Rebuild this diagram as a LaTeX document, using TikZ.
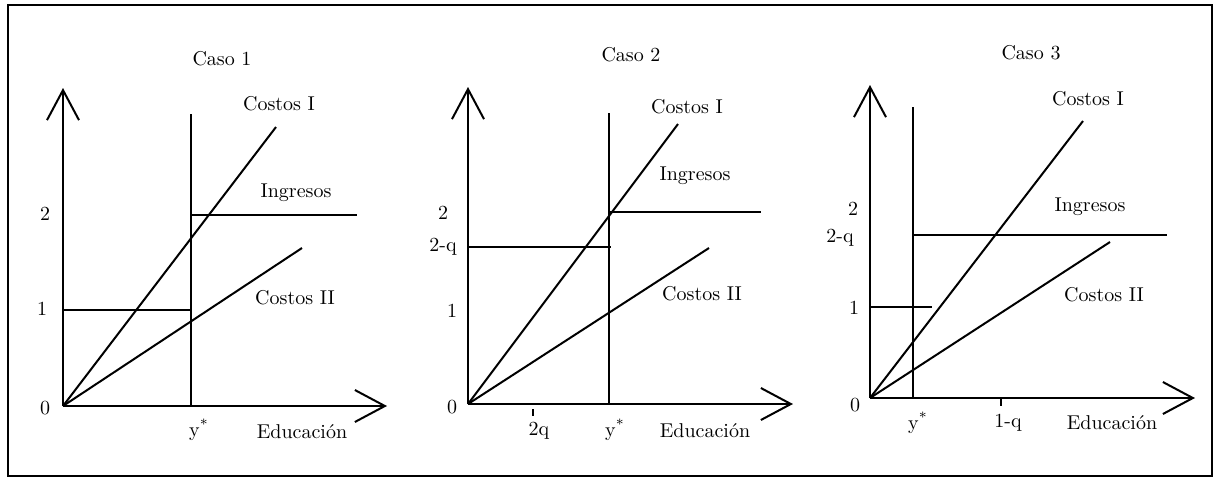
\documentclass[tikz,border=0pt]{standalone}
\usetikzlibrary{arrows.meta}
\begin{document}
\begin{tikzpicture}[x=0.5pt,y=-0.5pt,
  ln/.style={line width=1pt},
  axis/.style={line width=1pt,-{Straight Barb[length=15pt,width=16pt,line width=1pt]}},
  lbl/.style={font=\fontsize{10}{12}\selectfont,inner sep=0pt}]
\useasboundingbox (0,0) rectangle (1215,478);
\draw[line width=1pt] (7.5,5) rectangle (1212,476);

% ---------- Panel 1 ----------
\coordinate (o1) at (63,406);
\coordinate (yt1) at (63,88);
\coordinate (xe1) at (387,406);
\draw[axis] (o1) -- (yt1);
\draw[axis] (o1) -- (xe1);
\coordinate (vb1) at (191,406); \coordinate (vt1) at (191,114);
\draw[ln] (vb1) -- (vt1);
\coordinate (ca1) at (276,127); \coordinate (cb1) at (302,248);
\draw[ln] (o1) -- (ca1);
\draw[ln] (o1) -- (cb1);
\coordinate (h1a) at (63,310); \coordinate (h1b) at (191,310);
\draw[ln] (h1a) -- (h1b);
\coordinate (i1a) at (191,215); \coordinate (i1b) at (357,215);
\draw[ln] (i1a) -- (i1b);
\node[lbl] (t1) at (222,59) {Caso 1};
\node[lbl] (ci1) at (279,104) {Costos I};
\node[lbl] (ig1) at (296,193) {Ingresos};
\node[lbl] (cii1) at (295,298) {Costos II};
\node[lbl] (l21) at (45,214) {2};
\node[lbl] (l11) at (42,309) {1};
\node[lbl] (l01) at (45,408) {0};
\node[lbl] (ys1) at (199,430) {y\textsuperscript{*}};
\node[lbl] (ed1) at (302,432) {Educación};

% ---------- Panel 2 ----------
\coordinate (o2) at (468,404);
\coordinate (yt2) at (468,87);
\coordinate (xe2) at (793,404);
\draw[axis] (o2) -- (yt2);
\draw[axis] (o2) -- (xe2);
\coordinate (vb2) at (609,404); \coordinate (vt2) at (609,113);
\draw[ln] (vb2) -- (vt2);
\coordinate (ca2) at (678,124); \coordinate (cb2) at (709,248);
\draw[ln] (o2) -- (ca2);
\draw[ln] (o2) -- (cb2);
\coordinate (h2a) at (468,247); \coordinate (h2b) at (611,247);
\draw[ln] (h2a) -- (h2b);
\coordinate (i2a) at (609,212); \coordinate (i2b) at (761,212);
\draw[ln] (i2a) -- (i2b);
\coordinate (tk2a) at (533,409); \coordinate (tk2b) at (533,416);
\draw[ln] (tk2a) -- (tk2b);
\node[lbl] (t2) at (631,55) {Caso 2};
\node[lbl] (ci2) at (687,107) {Costos I};
\node[lbl] (ig2) at (695,176) {Ingresos};
\node[lbl] (cii2) at (702,294) {Costos II};
\node[lbl] (l22) at (443,213) {2};
\node[lbl] (l2q2) at (443,247) {2-q};
\node[lbl] (l12) at (452,311) {1};
\node[lbl] (l02) at (452,407) {0};
\node[lbl] (q2) at (539,431) {2q};
\node[lbl] (ys2) at (615,430) {y\textsuperscript{*}};
\node[lbl] (ed2) at (705,431) {Educación};

% ---------- Panel 3 ----------
\coordinate (o3) at (870,398);
\coordinate (yt3) at (870,85);
\coordinate (xe3) at (1195,398);
\draw[axis] (o3) -- (yt3);
\draw[axis] (o3) -- (xe3);
\coordinate (vb3) at (913,398); \coordinate (vt3) at (913,107);
\draw[ln] (vb3) -- (vt3);
\coordinate (ca3) at (1083,121); \coordinate (cb3) at (1110,242);
\draw[ln] (o3) -- (ca3);
\draw[ln] (o3) -- (cb3);
\coordinate (h3a) at (870,307); \coordinate (h3b) at (932,307);
\draw[ln] (h3a) -- (h3b);
\coordinate (i3a) at (913,235); \coordinate (i3b) at (1167,235);
\draw[ln] (i3a) -- (i3b);
\coordinate (tk3a) at (1001,398); \coordinate (tk3b) at (1001,406);
\draw[ln] (tk3a) -- (tk3b);
\node[lbl] (t3) at (1031,53) {Caso 3};
\node[lbl] (ci3) at (1088,99) {Costos I};
\node[lbl] (ig3) at (1090,207) {Ingresos};
\node[lbl] (cii3) at (1104,295) {Costos II};
\node[lbl] (l23) at (853,209) {2};
\node[lbl] (l2q3) at (840,238) {2-q};
\node[lbl] (l13) at (854,308) {1};
\node[lbl] (l03) at (855,405) {0};
\node[lbl] (ys3) at (918,423) {y\textsuperscript{*}};
\node[lbl] (q3) at (1008,423) {1-q};
\node[lbl] (ed3) at (1112,423) {Educación};
\end{tikzpicture}
\end{document}
